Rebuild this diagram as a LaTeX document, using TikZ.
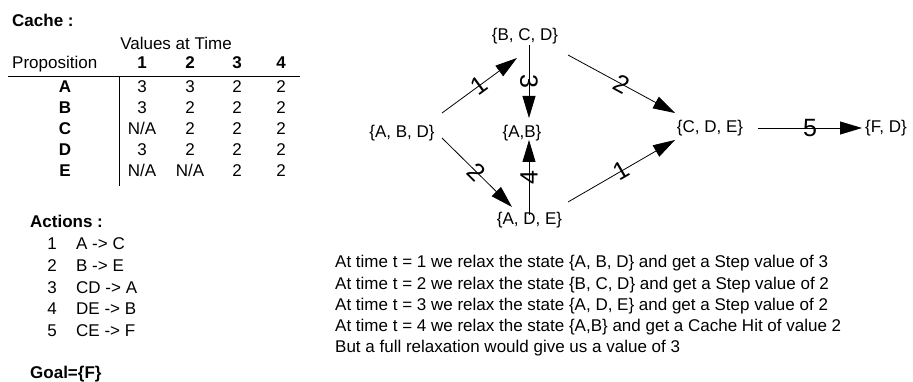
\documentclass[tikz,border=0pt]{standalone}
\usepackage{fontspec}
\setmainfont{Liberation Sans}
\usetikzlibrary{arrows.meta}
\newcommand{\natxt}{N/A}
\begin{document}
\begin{tikzpicture}[x=1pt,y=-1pt,
  txt/.style={font=\fontsize{17}{20}\selectfont, inner sep=0pt},
  bld/.style={font=\fontsize{17}{20}\selectfont\bfseries, inner sep=0pt},
  rule/.style={line width=1pt},
  arr/.style={line width=0.8pt, -{Triangle[length=22pt,width=13pt]}},
  elab/.style={font=\fontsize{25}{25}\selectfont, sloped, allow upside down, inner sep=0pt}]
\useasboundingbox (0,0) rectangle (913,382);
% ---- cache table
\node[bld, anchor=base west] (cache) at (12,27) {Cache :};
\node[txt, anchor=base] (valt) at (176,50) {Values at Time};
\node[txt, anchor=base west] (prop) at (12,69) {Proposition};
\foreach \n/\x in {1/142,2/190,3/237,4/281}
  \node[bld, anchor=base] (h\n) at (\x,69) {\n};
\coordinate (hl1) at (8,77); \coordinate (hl2) at (300,77);
\coordinate (vl1) at (119,77); \coordinate (vl2) at (119,186);
\draw[rule] (hl1) -- (hl2);
\draw[rule] (vl1) -- (vl2);
\foreach \r/\y/\a/\b/\c/\d in {A/93/3/3/2/2, B/114/3/2/2/2, C/135/\natxt/2/2/2, D/156/3/2/2/2, E/177/\natxt/\natxt/2/2}{
  \node[bld, anchor=base] (r\r) at (65,\y) {\r};
  \node[txt, anchor=base] (v\r1) at (142,\y) {\a};
  \node[txt, anchor=base] (v\r2) at (190,\y) {\b};
  \node[txt, anchor=base] (v\r3) at (237,\y) {\c};
  \node[txt, anchor=base] (v\r4) at (281,\y) {\d};
}
% ---- actions
\node[bld, anchor=base west] (acts) at (30,228) {Actions :};
\foreach \n/\y/\t in {1/250/A -> C, 2/271.5/B -> E, 3/293/CD -> A, 4/314.5/DE -> B, 5/336/CE -> F}{
  \node[txt, anchor=base] (an\n) at (52,\y) {\n};
  \node[txt, anchor=base west] (at\n) at (76,\y) {\t};
}
\node[bld, anchor=base west] (goal) at (30,378) {Goal=\{F\}};
% ---- graph
\node[txt] (BCD) at (525,36) {\{B, C, D\}};
\node[txt] (ABD) at (402,133) {\{A, B, D\}};
\node[txt] (AB) at (522,133) {\{A,B\}};
\node[txt] (ADE) at (529.5,220) {\{A, D, E\}};
\node[txt] (CDE) at (710,128) {\{C, D, E\}};
\node[txt] (FD) at (886,128) {\{F, D\}};
\draw[arr] ([shift={(40,-20)}]ABD.center) -- node[elab]{1} ([shift={(-8,22)}]BCD.center);
\draw[arr] ([shift={(4,9)}]BCD.center) -- node[elab]{3} ([shift={(7,-15)}]AB.center);
\draw[arr] ([shift={(43,19)}]BCD.center) -- node[elab]{2} ([shift={(-35,-15)}]CDE.center);
\draw[arr] ([shift={(40,5)}]ABD.center) -- node[elab]{2} ([shift={(-17.5,-13)}]ADE.center);
\draw[arr] ([shift={(-0.5,-5)}]ADE.center) -- node[elab]{4} ([shift={(7,7)}]AB.center);
\draw[arr] ([shift={(38.5,-18)}]ADE.center) -- node[elab]{1} ([shift={(-35,12)}]CDE.center);
\draw[arr] ([shift={(48,0)}]CDE.center) -- node[elab]{5} ([shift={(-24,0)}]FD.center);
% ---- explanation
\node[txt, anchor=base west] (t1) at (335,268) {At time t = 1 we relax the state \{A, B, D\} and get a Step value of 3};
\node[txt, anchor=base west] (t2) at (335,289) {At time t = 2 we relax the state \{B, C, D\} and get a Step value of 2};
\node[txt, anchor=base west] (t3) at (335,310) {At time t = 3 we relax the state \{A, D, E\} and get a Step value of 2};
\node[txt, anchor=base west] (t4) at (335,331) {At time t = 4 we relax the state \{A,B\} and get a Cache Hit of value 2};
\node[txt, anchor=base west] (t5) at (335,352) {But a full relaxation would give us a value of 3};
\end{tikzpicture}
\end{document}
